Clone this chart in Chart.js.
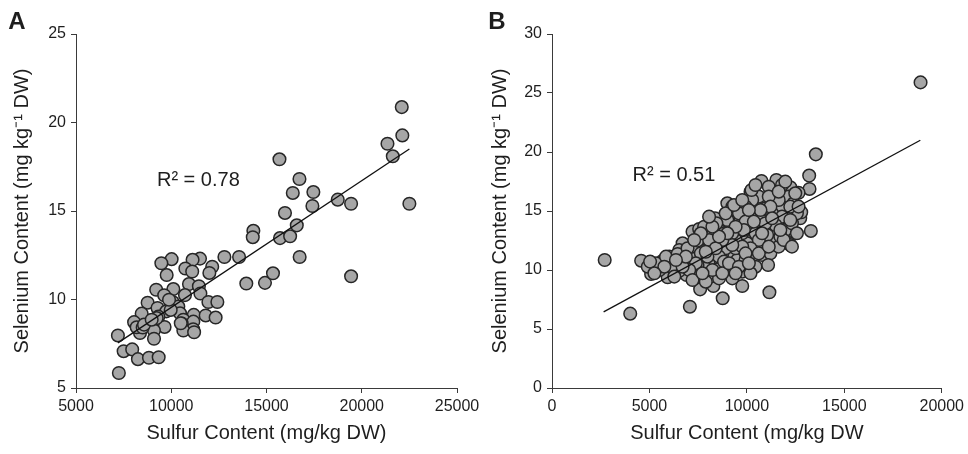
<!DOCTYPE html>
<html>
<head>
<meta charset="utf-8">
<script src="https://cdn.jsdelivr.net/npm/chart.js@4.4.1/dist/chart.umd.min.js"></script>
<style>
  html, body { margin: 0; padding: 0; background: #ffffff; }
  #wrap { position: relative; width: 968px; height: 454px; }
  canvas { position: absolute; top: 0; }
  #cA { left: 0; }
  #cB { left: 484px; }
</style>
</head>
<body>
<div id="wrap">
  <canvas id="cA" width="484" height="454"></canvas>
  <canvas id="cB" width="484" height="454"></canvas>
</div>
<script>
// ---- Panel A data (sulfur mg/kg DW vs selenium mg/kg DW) ----
const sulfurA = [22100,22130,21350,21630,22500,19440,18740,15680,16730,16380,17460,17410,15970,16590,14310,14280,15710,16240,16740,13560,12790,13940,14920,15340,19440,11510,11120,10020,9480,12150,12000,10740,11100,9760,10930,11450,11530,10110,9210,9630,10720,10075,10370,8760,9280,8448,9740,11950,12420,11180,11808,12330,10460,9322,9971,10633,11160,10550,11150,10634,9650,9090,8360,8050,8185,8500,8570,7200,9095,7500,7950,8250,8830,9340,7250,9235,8973,9883,11200,10500];
const seleniumA = [20.87,19.27,18.80,18.09,15.41,15.41,15.64,17.92,16.81,16.02,16.07,15.28,14.89,14.19,13.88,13.52,13.47,13.57,12.40,12.40,12.40,10.90,10.94,11.48,11.31,12.31,12.24,12.28,12.05,11.85,11.50,11.75,11.58,11.38,10.87,10.75,10.34,10.59,10.55,10.24,10.25,9.86,9.60,9.82,9.52,9.20,9.33,9.86,9.86,9.13,9.10,8.98,9.22,9.03,9.41,8.86,8.75,8.64,8.32,8.25,8.45,8.25,8.11,8.72,8.43,8.42,8.58,7.97,7.78,7.08,7.18,6.63,6.71,6.74,5.85,8.95,8.86,9.99,8.15,8.66];
const trendA_x = [7200, 22500];
const trendA_y = [7.55, 18.5];
const r2A = "R\u00B2 = 0.78";

// ---- Panel B data ----
const sulfurB = [18912,13538,13197,13214,13282,2704,4014,7075,8759,11156,9762,8282,7602,4575,5085,5680,5935,6394,6701,7211,7585,7551,7041,8367,8997,9422,9201,9167,9252,10102,9677,10187,10748,11514,12228,11378,12143,10765,11378,11123,10442,10867,10306,11378,12143,12228,12398,12738,12653,12789,10782,11208,11089,10017,9167,8537,8027,7806,7296,6905,6531,8316,8742,8997,8486,8146,9507,9762,8997,8571,7891,10272,10952,11803,11633,11973,10187,11633,10442,9932,8231,7381,6786,6275,5510,4915,6020,7466,7891,8571,10782,9422,9677,10612,10272,11123,11803,12398,12568,11293,10952,8827,8231,8061,7211,6701,9422,9252,9932,9592,10527,11293,11633,12058,10272,10442,9762,7466,6956,7636,8912,8571,9252,9932,10697,11038,11718,6531,6105,5340,7976,8827,9337,10187,
  5034,5850,6446,6956,7466,8061,7806,8435,8912,9337,9762,10238,10442,11123,11633,11973,12483,12228,11803,11463,10952,10612,10187,9762,9252,8742,8401,7891,7381,7041,6701,8231,8742,9082,9592,9932,10612,11123,11888,12313,12653,11208,10697,10102,9847,9422,8997,8571,8231,8061,7636,7296,6871,6360,5765,5255,6275,7211,7721,9422,10102,10782,10357,11293,11718,12228,12568,12313];
const seleniumB = [25.90,19.80,18.00,16.87,13.31,10.85,6.30,6.89,7.60,8.11,8.64,8.64,8.36,10.79,9.66,10.79,9.38,10.51,12.26,13.25,12.12,13.48,11.41,14.38,15.65,15.03,13.67,11.13,9.29,10.00,11.70,16.64,17.54,17.63,17.01,16.55,16.22,15.93,15.79,14.66,14.80,13.39,12.83,12.77,12.68,12.12,13.25,14.38,16.55,14.89,11.27,11.41,10.42,12.26,12.54,12.40,10.62,10.28,10.00,9.58,9.94,12.26,11.41,10.28,10.06,9.44,10.85,13.11,14.24,13.39,12.83,14.38,15.22,15.22,14.24,13.39,13.81,11.98,10.28,10.85,11.41,11.13,10.85,10.00,10.00,10.28,11.13,9.44,9.01,9.29,12.54,12.54,14.24,16.22,15.93,17.06,17.20,15.65,14.80,13.39,11.98,13.11,13.11,11.98,11.98,11.41,11.84,15.37,15.37,14.80,13.67,14.80,15.93,14.52,11.41,13.11,9.86,10.42,10.57,11.41,11.84,11.13,13.11,14.10,14.24,12.97,12.83,11.70,10.28,10.57,11.13,10.71,10.00,9.72,
  10.71,11.13,11.36,11.84,12.49,12.54,13.67,13.96,14.80,15.51,15.93,16.78,17.20,16.22,16.64,17.49,16.50,15.37,14.52,13.81,13.96,12.54,11.84,11.98,12.12,12.54,11.84,11.55,10.57,10.00,10.28,10.00,9.72,10.57,10.28,11.41,11.41,11.98,12.54,13.96,15.37,15.37,15.08,15.08,13.39,13.67,13.11,12.83,13.67,14.52,13.11,12.54,11.13,10.85,10.28,9.72,9.44,9.15,9.72,9.72,10.57,13.11,14.10,14.38,13.39,14.24,13.11,11.98];
const trendB_x = [2650, 18900];
const trendB_y = [6.45, 21.0];
const r2B = "R\u00B2 = 0.51";

const xTicksA = [5000, 10000, 15000, 20000, 25000];
const yTicksA = [5, 10, 15, 20, 25];
const xTicksB = [0, 5000, 10000, 15000, 20000];
const yTicksB = [0, 5, 10, 15, 20, 25, 30];

const xTitleA = "Sulfur Content (mg/kg DW)";
const xTitleB = "Sulfur Content (mg/kg DW";
const yTitle = "Selenium Content (mg kg\u207B\u00B9 DW)";

const FONT = 'Arial, "Liberation Sans", Helvetica, sans-serif';
const TEXT = '#1e1e1e';
const AXIS = '#3a3a3a';

function pts(xs, ys) { return xs.map((x, i) => ({x: x, y: ys[i]})); }

function annot(label, r2, r2x, r2y, labelX) {
  return {
    id: 'annot',
    afterDraw(chart) {
      const ctx = chart.ctx;
      ctx.save();
      ctx.fillStyle = TEXT;
      ctx.font = 'bold 24px ' + FONT;
      ctx.textAlign = 'center';
      ctx.textBaseline = 'middle';
      ctx.fillText(label, labelX, 22);
      ctx.font = '20px ' + FONT;
      ctx.textAlign = 'left';
      ctx.fillText(r2, chart.scales.x.getPixelForValue(r2x), chart.scales.y.getPixelForValue(r2y));
      ctx.restore();
    }
  };
}

function makeChart(id, sx, sy, tx, ty, xTicks, yTicks, xTitle, yTitlePad, axisW, padRight, label, r2, r2x, r2y, labelX) {
  return new Chart(document.getElementById(id), {
    type: 'scatter',
    data: {
      datasets: [
        {
          type: 'line',
          data: pts(tx, ty),
          borderColor: '#111111',
          borderWidth: 1.3,
          pointRadius: 0,
          fill: false,
          order: 0
        },
        {
          data: pts(sx, sy),
          backgroundColor: '#a6a6a6',
          borderColor: '#262626',
          borderWidth: 1.5,
          pointRadius: 6.3,
          order: 1
        }
      ]
    },
    options: {
      responsive: false,
      animation: false,
      events: [],
      layout: { padding: { left: 0, right: padRight, top: 34, bottom: 0 } },
      plugins: { legend: { display: false }, tooltip: { enabled: false } },
      scales: {
        x: {
          type: 'linear',
          min: xTicks[0],
          max: xTicks[xTicks.length - 1],
          afterBuildTicks: s => { s.ticks = xTicks.map(v => ({value: v})); },
          afterFit: s => { s.height = 66; },
          grid: { display: true, drawOnChartArea: false, drawTicks: true, tickLength: 5, color: AXIS, tickColor: AXIS },
          border: { display: true, color: AXIS, width: 1 },
          ticks: { color: TEXT, font: { family: FONT, size: 16 }, padding: 4, maxRotation: 0, callback: v => String(v) },
          title: { display: true, text: xTitle, color: TEXT, font: { family: FONT, size: 20 }, padding: { top: 0, bottom: 9 } }
        },
        y: {
          type: 'linear',
          min: yTicks[0],
          max: yTicks[yTicks.length - 1],
          afterBuildTicks: s => { s.ticks = yTicks.map(v => ({value: v})); },
          afterFit: s => { s.width = axisW; },
          grid: { display: true, drawOnChartArea: false, drawTicks: true, tickLength: 5, color: AXIS, tickColor: AXIS },
          border: { display: true, color: AXIS, width: 1 },
          ticks: { color: TEXT, font: { family: FONT, size: 16 }, padding: 5, callback: v => String(v) },
          title: { display: true, text: yTitle, color: TEXT, font: { family: FONT, size: 20 }, padding: { top: yTitlePad, bottom: 0 } }
        }
      }
    },
    plugins: [annot(label, r2, r2x, r2y, labelX)]
  });
}

makeChart('cA', sulfurA, seleniumA, trendA_x, trendA_y, xTicksA, yTicksA, xTitleA, 10, 76, 27, 'A', r2A, 9250, 16.75, 17);
makeChart('cB', sulfurB, seleniumB, trendB_x, trendB_y, xTicksB, yTicksB, xTitleB, 4, 68, 24, 'B', r2B, 4133, 18.05, 13);
</script>
</body>
</html>
